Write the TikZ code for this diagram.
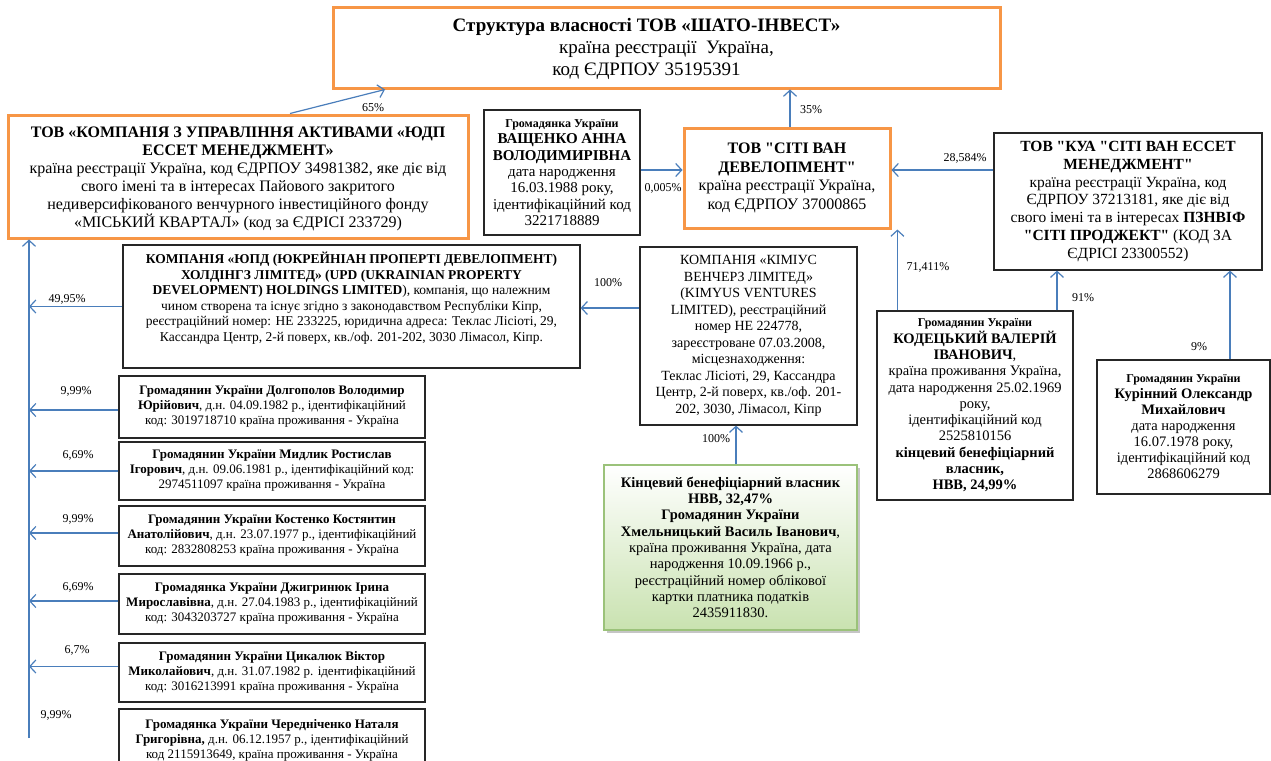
\documentclass[tikz,border=0pt]{standalone}
\usepackage{fontspec}
\setmainfont{Liberation Serif}
\newfontfamily\tnr{Liberation Serif}
\newcommand\qq{{\tnr"}}
\usetikzlibrary{arrows.meta,shadows,calc}
\definecolor{orangeC}{HTML}{F79646}
\definecolor{blueC}{HTML}{4A7EBB}
\definecolor{greenB}{HTML}{9BC27A}
\definecolor{greenF}{HTML}{C9E2B0}
\tikzset{
  obox/.style={draw=orangeC, line width=3pt, align=center, inner sep=0pt},
  bbox/.style={draw=black!85, line width=1.2pt, align=center, inner sep=0pt},
  gbox/.style={draw=greenB, line width=1.2pt, align=center, inner sep=0pt, top color=white, bottom color=greenF,
    drop shadow={shadow xshift=3pt, shadow yshift=-3pt, fill=black!45}},
  arr/.style={draw=blueC, line width=1.2pt, -{Straight Barb[length=6pt,width=13pt,line width=1.2pt]}},
  pct/.style={font=\fontsize{12}{14}\selectfont, inner sep=0pt},
  pbox/.style={bbox, minimum width=306, font=\fontsize{13}{15}\selectfont},
}
\begin{document}
\begin{tikzpicture}[x=1pt,y=-1pt]
\clip (0,0) rectangle (1271,760);
\fill[white] (0,0) rectangle (1271,760);

% top
\node[obox, minimum width=667, minimum height=80, font=\fontsize{19}{22}\selectfont] (top) at (666.5,48)
 {\rule{0pt}{15pt}\textbf{Структура власності ТОВ «ШАТО-ІНВЕСТ»}\hspace*{40pt}\\ країна реєстрації\ \ Україна,\hspace*{40pt}\\ код ЄДРПОУ 35195391\hspace*{40pt}};

% UDP asset management
\node[obox, minimum width=460, minimum height=123, font=\fontsize{16}{18}\selectfont] (yudp) at (238,176.5)
 {\rule{0pt}{15pt}\textbf{ТОВ «КОМПАНІЯ З УПРАВЛІННЯ АКТИВАМИ «ЮДП}\\
  \textbf{ЕССЕТ МЕНЕДЖМЕНТ»}\\
  країна реєстрації Україна, код ЄДРПОУ 34981382, яке діє від\\
  свого імені та в інтересах Пайового закритого\\
  недиверсифікованого венчурного інвестиційного фонду\\
  «МІСЬКИЙ КВАРТАЛ» (код за ЄДРІСІ 233729)};

% Vaschenko
\node[bbox, minimum width=156, minimum height=125, font=\fontsize{15}{16.3}\selectfont] (vas) at (562,172.5)
 {{\fontsize{12}{14}\selectfont\bfseries Громадянка України}\\
  \textbf{ВАЩЕНКО АННА}\\
  \textbf{ВОЛОДИМИРІВНА}\\
  дата народження\\
  16.03.1988 року,\\
  ідентифікаційний код\\
  3221718889};

% City One Development
\node[obox, minimum width=206, minimum height=100, font=\fontsize{16}{18.5}\selectfont] (svd) at (787,178)
 {\textbf{ТОВ \qq СІТІ ВАН}\\
  \textbf{ДЕВЕЛОПМЕНТ\qq}\\
  країна реєстрації Україна,\\
  код ЄДРПОУ 37000865};

% KUA
\node[bbox, minimum width=268, minimum height=137, font=\fontsize{15.5}{17.8}\selectfont] (kua) at (1128,201.5)
 {\textbf{ТОВ \qq КУА \qq СІТІ ВАН ЕССЕТ}\\
  \textbf{МЕНЕДЖМЕНТ\qq}\\
  країна реєстрації Україна, код\\
  ЄДРПОУ 37213181, яке діє від\\
  свого імені та в інтересах \textbf{ПЗНВІФ}\\
  \textbf{\qq СІТІ ПРОДЖЕКТ\qq} (КОД ЗА\\
  ЄДРІСІ 23300552)};

% UPD holdings
\node[bbox, minimum width=457, minimum height=123, font=\fontsize{13.5}{15.5}\selectfont] (upd) at (351.5,306.5)
 {\textbf{КОМПАНІЯ «ЮПД (ЮКРЕЙНІАН ПРОПЕРТІ ДЕВЕЛОПМЕНТ)}\\
  \textbf{ХОЛДІНГЗ ЛІМІТЕД» (UPD (UKRAINIAN PROPERTY}\\
  \textbf{DEVELOPMENT) HOLDINGS LIMITED}), компанія, що належним\\
  чином створена та існує згідно з законодавством Республіки Кіпр,\\
  реєстраційний номер: НЕ 233225, юридична адреса: Теклас Лісіоті, 29,\\
  Кассандра Центр, 2-й поверх, кв./оф. 201-202, 3030 Лімасол, Кіпр.\rule[-20pt]{0pt}{20pt}};

% Kimius
\node[bbox, minimum width=217, minimum height=178, font=\fontsize{14}{16.5}\selectfont] (kim) at (748.5,336)
 {КОМПАНІЯ «КІМІУС\\
  ВЕНЧЕРЗ ЛІМІТЕД»\\
  (KIMYUS VENTURES\\
  LIMITED), реєстраційний\\
  номер НЕ 224778,\\
  зареєстроване 07.03.2008,\\
  місцезнаходження:\\
  Теклас Лісіоті, 29, Кассандра\\
  Центр, 2-й поверх, кв./оф. 201-\\
  202, 3030, Лімасол, Кіпр};

% Kodetskyi
\node[bbox, minimum width=196, minimum height=189, font=\fontsize{14.5}{16.3}\selectfont] (kod) at (975,405.5)
 {{\fontsize{12}{14}\selectfont\bfseries Громадянин України}\\
  \textbf{КОДЕЦЬКИЙ ВАЛЕРІЙ}\\
  \textbf{ІВАНОВИЧ},\\
  країна проживання Україна,\\
  дата народження 25.02.1969\\
  року,\\
  ідентифікаційний код\\
  2525810156\\
  \textbf{кінцевий бенефіціарний}\\
  \textbf{власник,}\\
  \textbf{НВВ, 24,99\%}};

% Kurinnyi
\node[bbox, minimum width=173, minimum height=134, font=\fontsize{14.5}{16}\selectfont] (kur) at (1183.5,427)
 {{\fontsize{12}{14}\selectfont\bfseries Громадянин України}\\
  \textbf{Курінний Олександр}\\
  \textbf{Михайлович}\\
  дата народження\\
  16.07.1978 року,\\
  ідентифікаційний код\\
  2868606279};

% Khmelnytskyi (green)
\node[gbox, minimum width=253, minimum height=165, font=\fontsize{14.5}{16.3}\selectfont] (khm) at (730.5,547.5)
 {\textbf{Кінцевий бенефіціарний власник}\\
  \textbf{НВВ, 32,47\%}\\
  \textbf{Громадянин України}\\
  \textbf{Хмельницький Василь Іванович},\\
  країна проживання Україна, дата\\
  народження 10.09.1966 р.,\\
  реєстраційний номер облікової\\
  картки платника податків\\
  2435911830.};

% left persons
\node[pbox, minimum height=62] (p1) at (272,407)
 {\textbf{Громадянин України Долгополов Володимир}\\
  \textbf{Юрійович}, д.н. 04.09.1982 р., ідентифікаційний\\
  код: 3019718710 країна проживання - Україна};
\node[pbox, minimum height=58] (p2) at (272,471)
 {\textbf{Громадянин України Мидлик Ростислав}\\
  \textbf{Ігорович}, д.н. 09.06.1981 р., ідентифікаційний код:\\
  2974511097 країна проживання - Україна};
\node[pbox, minimum height=60] (p3) at (272,536)
 {\textbf{Громадянин України Костенко Костянтин}\\
  \textbf{Анатолійович}, д.н. 23.07.1977 р., ідентифікаційний\\
  код: 2832808253 країна проживання - Україна};
\node[pbox, minimum height=60] (p4) at (272,604)
 {\textbf{Громадянка України Джигринюк Ірина}\\
  \textbf{Мирославівна}, д.н. 27.04.1983 р., ідентифікаційний\\
  код: 3043203727 країна проживання - Україна};
\node[pbox, minimum height=59] (p5) at (272,672.5)
 {\textbf{Громадянин України Цикалюк Віктор}\\
  \textbf{Миколайович}, д.н. 31.07.1982 р. ідентифікаційний\\
  код: 3016213991 країна проживання - Україна};
\node[pbox, minimum height=62] (p6) at (272,740)
 {\textbf{Громадянка України Чередніченко Наталя}\\
  \textbf{Григорівна,} д.н. 06.12.1957 р., ідентифікаційний\\
  код 2115913649, країна проживання - Україна};

% connectors
\draw[arr] ([xshift=52pt]yudp.north) -- ([xshift=-281.5pt]top.south);
\draw[arr] ([xshift=3pt]svd.north) -- ([xshift=3pt]svd.north |- top.south);
\draw[arr] ([yshift=2.5pt]vas.east) -- ([yshift=2.5pt]vas.east -| svd.west);
\draw[arr] ([yshift=31.5pt]kua.west) -- ([yshift=31.5pt]kua.west -| svd.east);
\draw[arr] ([xshift=21pt]kod.north west) -- ([xshift=21pt]kod.north west |- svd.south);
\draw[arr] ([xshift=82pt]kod.north) -- ([xshift=82pt]kod.north |- kua.south);
\draw[arr] ([xshift=46.5pt]kur.north) -- ([xshift=46.5pt]kur.north |- kua.south);
\draw[arr] ([yshift=28pt]kim.west) -- ([yshift=28pt]kim.west -| upd.east);
\draw[arr] ([xshift=5.5pt]khm.north) -- ([xshift=5.5pt]khm.north |- kim.south);

\coordinate (spb) at (29,738);
\draw[arr] (spb) -- (spb |- yudp.south);
\draw[arr] (upd.west) -- (upd.west -| spb);
\draw[arr] ([yshift=-3pt]p1.west) -- ([yshift=-3pt]p1.west -| spb);
\draw[arr] (p2.west) -- (p2.west -| spb);
\draw[arr] ([yshift=3pt]p3.west) -- ([yshift=3pt]p3.west -| spb);
\draw[arr] ([yshift=3pt]p4.west) -- ([yshift=3pt]p4.west -| spb);
\draw[arr] ([yshift=6pt]p5.west) -- ([yshift=6pt]p5.west -| spb);

% percentages
\node[pct] (l65) at (373,108) {65\%};
\node[pct] (l35) at (811,110) {35\%};
\node[pct] (l0005) at (663,188) {0,005\%};
\node[pct] (l28) at (965,158) {28,584\%};
\node[pct] (l71) at (928,267) {71,411\%};
\node[pct] (l91) at (1083,298) {91\%};
\node[pct] (l9) at (1199,347) {9\%};
\node[pct] (l100a) at (608,283) {100\%};
\node[pct] (l100b) at (716,439) {100\%};
\node[pct] (l4995) at (67,299) {49,95\%};
\node[pct] (lp1) at (76,391) {9,99\%};
\node[pct] (lp2) at (78,455) {6,69\%};
\node[pct] (lp3) at (78,519) {9,99\%};
\node[pct] (lp4) at (78,587) {6,69\%};
\node[pct] (lp5) at (77,650) {6,7\%};
\node[pct] (lp6) at (56,715) {9,99\%};
\end{tikzpicture}
\end{document}
